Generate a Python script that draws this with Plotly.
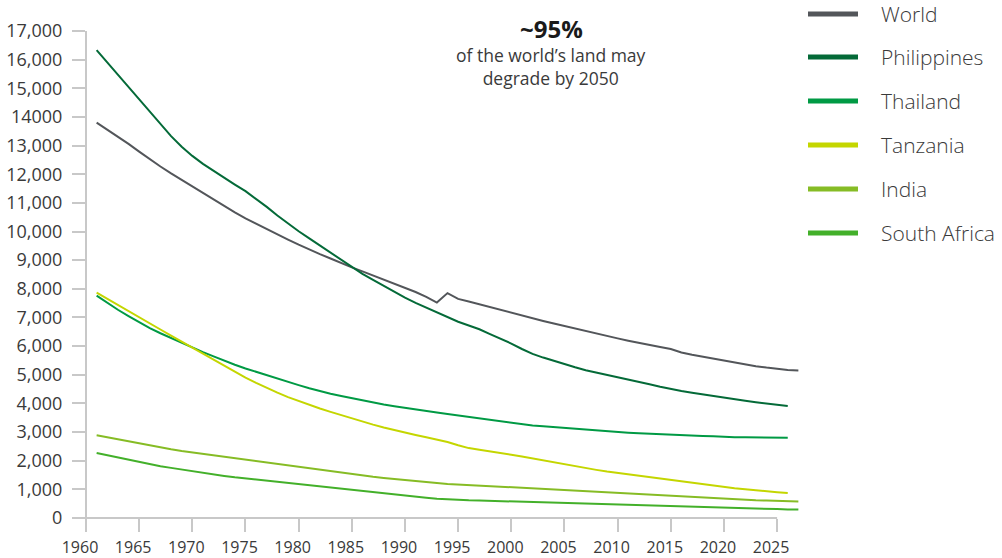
import plotly.graph_objects as go

# ---- data -------------------------------------------------------------
years_long = list(range(1961, 2028))   # 1961-2027
years_short = list(range(1961, 2027))  # 1961-2026

world = [13800, 13560, 13310, 13060, 12790, 12520, 12270, 12030, 11800, 11570,
         11340, 11110, 10890, 10670, 10460, 10270, 10090, 9900, 9720, 9540,
         9370, 9210, 9060, 8900, 8750, 8610, 8470, 8330, 8190, 8050,
         7890, 7720, 7520, 7850, 7650, 7560, 7460, 7360, 7260, 7160,
         7060, 6970, 6880, 6790, 6700, 6610, 6520, 6430, 6350, 6270,
         6190, 6110, 6040, 5970, 5900, 5780, 5700, 5630, 5560, 5490,
         5430, 5360, 5300, 5250, 5200, 5170, 5150]

philippines = [16330, 15900, 15480, 15060, 14610, 14160, 13740, 13330, 12960, 12640,
               12360, 12110, 11870, 11640, 11410, 11150, 10860, 10560, 10270, 10010,
               9760, 9510, 9260, 9010, 8760, 8520, 8310, 8100, 7890, 7690,
               7510, 7340, 7170, 7000, 6850, 6720, 6590, 6420, 6260, 6090,
               5900, 5730, 5600, 5480, 5370, 5260, 5160, 5080, 5000, 4930,
               4850, 4760, 4670, 4580, 4500, 4430, 4370, 4310, 4250, 4190,
               4140, 4090, 4040, 3990, 3950, 3910]

thailand = [7760, 7510, 7270, 7050, 6830, 6630, 6450, 6280, 6110, 5950,
            5790, 5640, 5490, 5350, 5220, 5100, 4980, 4860, 4740, 4640,
            4530, 4430, 4340, 4260, 4180, 4100, 4030, 3960, 3900, 3840,
            3780, 3730, 3680, 3630, 3580, 3520, 3460, 3410, 3360, 3310,
            3270, 3230, 3200, 3170, 3140, 3110, 3080, 3050, 3030, 3000,
            2980, 2960, 2940, 2920, 2900, 2880, 2870, 2860, 2850, 2830,
            2820, 2820, 2810, 2800, 2800, 2800]

tanzania = [7870, 7650, 7430, 7220, 7000, 6790, 6580, 6370, 6160, 5940,
            5720, 5510, 5300, 5095, 4900, 4715, 4540, 4375, 4220, 4080,
            3950, 3825, 3705, 3590, 3475, 3365, 3260, 3160, 3065, 2980,
            2900, 2820, 2740, 2650, 2540, 2440, 2380, 2330, 2270, 2210,
            2150, 2080, 2010, 1940, 1870, 1800, 1740, 1680, 1620, 1570,
            1520, 1470, 1420, 1380, 1340, 1290, 1240, 1190, 1140, 1090,
            1040, 1000, 960, 930, 900, 870]

india = [2890, 2820, 2740, 2660, 2590, 2520, 2460, 2400, 2340, 2290,
         2230, 2180, 2130, 2070, 2020, 1970, 1920, 1870, 1820, 1770,
         1720, 1670, 1620, 1570, 1520, 1480, 1440, 1400, 1360, 1320,
         1280, 1250, 1220, 1190, 1170, 1150, 1130, 1110, 1090, 1070,
         1050, 1030, 1010, 990, 960, 940, 920, 900, 880, 860,
         840, 820, 800, 780, 760, 740, 720, 700, 690, 670,
         650, 640, 620, 610, 600, 590, 580]

south_africa = [2270, 2190, 2110, 2030, 1950, 1880, 1810, 1750, 1690, 1630,
                1570, 1520, 1470, 1420, 1380, 1330, 1290, 1250, 1210, 1170,
                1130, 1090, 1060, 1020, 980, 940, 900, 860, 830, 790,
                750, 710, 675, 650, 630, 620, 610, 600, 590, 580,
                560, 540, 530, 520, 510, 500, 490, 480, 470, 460,
                450, 440, 430, 420, 410, 400, 390, 380, 370, 360,
                350, 340, 330, 320, 310, 300, 295]

y_tick_vals = list(range(0, 17001, 1000))
y_tick_text = ["0", "1,000", "2,000", "3,000", "4,000", "5,000", "6,000", "7,000",
               "8,000", "9,000", "10,000", "11,000", "12,000", "13,000", "14000",
               "15,000", "16,000", "17,000"]
x_tick_vals = list(range(1960, 2026, 5))

series = [
    ("World", years_long, world, "#53565A"),
    ("Philippines", years_short, philippines, "#046A38"),
    ("Thailand", years_short, thailand, "#009A44"),
    ("Tanzania", years_short, tanzania, "#C4D600"),
    ("India", years_long, india, "#86BC25"),
    ("South Africa", years_long, south_africa, "#43B02A"),
]

# ---- layout geometry ---------------------------------------------------
W, H = 1002, 558
ML, MR, MT, MB = 86, 193, 31, 40
X_RANGE = [1960, 2028]
Y_RANGE = [0, 17000]
PW, PH = W - ML - MR, H - MT - MB
AXIS_GREY = "#C8C8C8"
TEXT_GREY = "#3A3A3A"
TICK_LEN = 13


def px_to_paper_x(px):
    return (px - ML) / PW


def px_to_paper_y(py):
    return (H - MB - py) / PH


fig = go.Figure()
for name, xs, ys, color in series:
    fig.add_trace(go.Scatter(x=xs, y=ys, mode="lines", name=name,
                             line=dict(color=color, width=2),
                             showlegend=False, hoverinfo="x+y+name"))

shapes = []
# axis lines: x axis stops at the last labelled year, y axis runs down to tick ends
x_end = (2025 - X_RANGE[0]) / (X_RANGE[1] - X_RANGE[0])
shapes.append(dict(type="line", xref="paper", yref="paper", x0=0, x1=x_end, y0=0, y1=0,
                   line=dict(color=AXIS_GREY, width=2)))
shapes.append(dict(type="line", xref="paper", yref="paper", x0=0, x1=0,
                   y0=-TICK_LEN / PH, y1=1, line=dict(color=AXIS_GREY, width=2)))

annotations = []
# legend swatches and labels
legend_rows = [14, 57, 101, 145, 189, 233]
for (name, _, _, color), ry in zip(series, legend_rows):
    shapes.append(dict(type="line", xref="paper", yref="paper",
                       x0=px_to_paper_x(808), x1=px_to_paper_x(858),
                       y0=px_to_paper_y(ry), y1=px_to_paper_y(ry),
                       line=dict(color=color, width=5)))
    annotations.append(dict(text=name, xref="paper", yref="paper",
                            x=px_to_paper_x(879), y=px_to_paper_y(ry),
                            xanchor="left", yanchor="middle", showarrow=False,
                            font=dict(family="Open Sans", size=21, color=TEXT_GREY, weight=300)))

# headline callout
annotations.append(dict(text="<b>~95%</b>", xref="paper", yref="paper",
                        x=px_to_paper_x(551), y=px_to_paper_y(28),
                        xanchor="center", yanchor="middle", showarrow=False,
                        font=dict(family="Open Sans", size=24, color="#1A1A1A")))
annotations.append(dict(text="of the world\u2019s land may<br>degrade by 2050",
                        xref="paper", yref="paper",
                        x=px_to_paper_x(551), y=px_to_paper_y(66),
                        xanchor="center", yanchor="middle", showarrow=False, align="center",
                        font=dict(family="Open Sans", size=17.5, color=TEXT_GREY)))

fig.update_layout(
    width=W, height=H,
    margin=dict(l=ML, r=MR, t=MT, b=MB, pad=0, autoexpand=False),
    paper_bgcolor="white", plot_bgcolor="white",
    font=dict(family="Open Sans", size=16, color=TEXT_GREY),
    shapes=shapes, annotations=annotations,
    xaxis=dict(range=X_RANGE, tickvals=x_tick_vals, ticks="outside", ticklen=TICK_LEN,
               tickwidth=2, tickcolor=AXIS_GREY, showline=False, showgrid=False,
               zeroline=False, automargin=False, ticklabelstandoff=2,
               ticklabelshift=-6, tickfont=dict(size=16, color=TEXT_GREY)),
    yaxis=dict(range=Y_RANGE, tickvals=y_tick_vals, ticktext=y_tick_text,
               ticks="outside", ticklen=TICK_LEN, tickwidth=2, tickcolor=AXIS_GREY,
               showline=False, showgrid=False, zeroline=False, automargin=False,
               ticklabelstandoff=6, tickfont=dict(size=18, color=TEXT_GREY)),
)

fig.write_html("out.html")
